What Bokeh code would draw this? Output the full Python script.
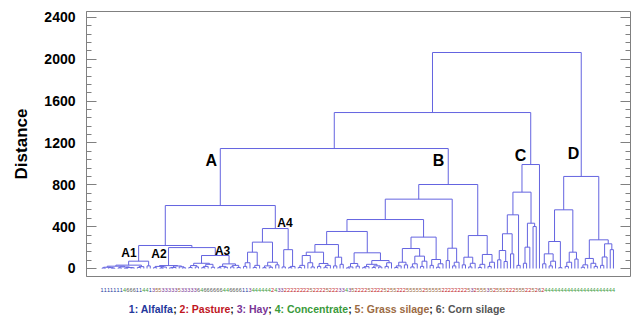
from bokeh.plotting import figure
from bokeh.models import Range1d, FixedTicker, LinearAxis, ColumnDataSource
from bokeh.layouts import column
from bokeh.embed import file_html
from bokeh.resources import INLINE
from bokeh.core.properties import value

o = None  # a single sample (leaf of the dendrogram)

# sub-clusters written as (merge distance, left branch, right branch)
A1 = (70, (32, (22, (12, (5, o, o), (8, o, (4, o, o))),
                    (15, (6, o, o), (9, (4, o, o), (7, o, o)))),
               (18, (10, o, o), o)),
      (25, o, o))
A2 = (28, (20, (8, o, o), (14, (5, o, o), o)),
          (24, (10, (6, o, o), o), (16, o, (7, o, o))))
A3 = (124, (50, (28, (10, o, o), (15, o, o)), (40, (20, (8, o, o), o), (12, o, o))),
           (44, (20, (8, o, o), (12, o, o)), (30, (15, o, o), (10, o, o))))
A4 = (382, (252, (156, (55, (20, o, o), o), (30, (10, o, o), o)),
                 (60, (25, (8, o, o), (12, o, o)), (35, o, o))),
           (180, (15, o, o), (20, (8, o, o), o)))

P1 = (156, (124, (30, (10, o, o), o), (55, o, (15, o, o))),
           (48, (20, o, o), (30, (12, o, o), o)))
P2 = (108, (25, o, o), (40, o, o))
Q1 = (48, (15, (6, o, o), o), (22, o, o))
Q2 = (76, (40, (18, (8, o, o), o), (25, (10, o, o), (14, o, o))), (55, (20, o, o), o))
R1 = (191, (60, (25, (10, o, o), o), (35, o, o)),
           (118, (45, (15, o, o), o), (70, (20, o, o), o)))
R2 = (86, (30, o, o), (45, (12, o, o), o))
BL2 = (194, (76, o, o), (60, (25, o, o), o))
BR = (315, (108, (35, o, o), (50, (15, o, o), o)),
           (134, (40, (10, o, o), o), (60, (20, o, o), o)))
B = (803, (663, (468, (354, (229, P1, P2), (150, Q1, Q2)), (300, R1, R2)), BL2), BR)

C = (994, (730, (513, (332, (172, (83, o, o), (67, o, o)), (140, o, o)), (30, o, o)),
                (433, (204, (50, o, o), o), (401, o, o))),
      o)
D = (880, (561, (258, (140, (45, o, o), (70, (25, o, o), o)), (8, o, o)),
                (156, (60, (20, o, o), o), (90, o, o))),
          (274, (96, (35, (12, o, o), o), (50, o, (20, o, o))),
                (236, (110, (30, o, o), o), (180, o, o))))

A = (602, (220, A1, (200, A2, A3)), A4)
tree = (2065, (1491, (1147, A, B), C), D)

# feed type of each sample, in dendrogram order
leaf_labels = ("1111111" "4666" "11" "44" "1" "3" "55" "33333" "5" "3" "3333" "6" "4"
               "666666" "44" "6666" "113" "44444"
               "4" "2" "4" "33" "22222222" "5" "2222" "5" "222" "33"
               "4" "3" "5" "2222" "5" "2222" "5" "2" "55" "222" "55555" "2" "55"
               "555" "22222222" "5" "3" "2" "555" "3" "5" "2" "555" "222" "555" "22"
               "5" "2" "6" "2"
               "4444444444444444444444")

type_codes = ["1", "2", "3", "4", "5", "6"]
type_names = ["Alfalfa", "Pasture", "Hay", "Concentrate", "Grass silage", "Corn silage"]
type_colors = ["#24389c", "#c0161e", "#7a3596", "#3a9a3a", "#9b6a42", "#555555"]

y_ticks = [0, 400, 800, 1200, 1600, 2000, 2400]
y_minor = list(range(0, 2401, 80))

cluster_names = ["A", "B", "C", "D"]
cluster_x = [34.0, 104.6, 130.1, 146.6]
cluster_y = [1033, 1033, 1080, 1100]
sub_names = ["A1", "A2", "A3", "A4"]
sub_x = [8.4, 17.7, 37.5, 56.9]
sub_y = [148, 134, 172, 435]

FONT = "Liberation Sans"
LINE = "#6464e0"
FRAME = "#808080"

# ---- dendrogram geometry from the tree ----
seg = dict(x0=[], y0=[], x1=[], y1=[])
leaf_x = []


def walk(node):
    if node is None:
        leaf_x.append(float(len(leaf_x)))
        return leaf_x[-1], 0.0
    h, left, right = node
    xl, hl = walk(left)
    xr, hr = walk(right)
    for a, b, c, d in ((xl, hl, xl, h), (xr, hr, xr, h), (xl, h, xr, h)):
        seg["x0"].append(a)
        seg["y0"].append(b)
        seg["x1"].append(c)
        seg["y1"].append(d)
    return (xl + xr) / 2.0, h


walk(tree)
assert len(leaf_x) == len(leaf_labels)

p = figure(width=633, height=277, x_range=Range1d(-4.82, 164.3), y_range=Range1d(-76.5, 2457),
           output_backend="svg", toolbar_location=None, x_axis_location=None,
           min_border_left=86, min_border_right=3, min_border_top=11, min_border_bottom=1)
p.xgrid.visible = False
p.ygrid.visible = False
p.outline_line_color = FRAME
p.outline_line_width = 1
p.background_fill_color = "white"
p.border_fill_color = "white"

ya = p.yaxis[0]
ya.ticker = FixedTicker(ticks=y_ticks, minor_ticks=y_minor)
ya.axis_line_color = FRAME
ya.major_tick_line_color = FRAME
ya.minor_tick_line_color = FRAME
ya.major_tick_in = 10
ya.major_tick_out = 0
ya.minor_tick_in = 5
ya.minor_tick_out = 0
ya.major_label_standoff = 11
ya.major_label_text_font = FONT
ya.major_label_text_font_style = "bold"
ya.major_label_text_font_size = "14px"
ya.major_label_text_color = "black"
ya.axis_label = "Distance"
ya.axis_label_text_font = FONT
ya.axis_label_text_font_style = "bold"
ya.axis_label_text_font_size = "17px"
ya.axis_label_text_color = "black"
ya.axis_label_standoff = 10

# right side: inward tick marks only (no labels) -- short ones and long ones
ra_minor = LinearAxis(ticker=FixedTicker(ticks=[], minor_ticks=y_minor),
                      major_label_standoff=0, axis_line_color=None,
                      minor_tick_line_color=FRAME, minor_tick_in=5, minor_tick_out=0,
                      major_tick_in=0, major_tick_out=0)
ra_major = LinearAxis(ticker=FixedTicker(ticks=[], minor_ticks=y_ticks),
                      major_label_standoff=0, axis_line_color=None,
                      minor_tick_line_color=FRAME, minor_tick_in=10, minor_tick_out=0,
                      major_tick_in=0, major_tick_out=0)
p.add_layout(ra_minor, "right")
p.add_layout(ra_major, "right")

p.segment(x0="x0", y0="y0", x1="x1", y1="y1", source=ColumnDataSource(seg),
          line_color=LINE, line_width=1)

p.text(x=cluster_x, y=cluster_y, text=cluster_names, text_font=value(FONT),
       text_font_style="bold", text_font_size="16px", text_color="black",
       text_align="center", text_baseline="middle")
p.text(x=sub_x, y=sub_y, text=sub_names, text_font=value(FONT),
       text_font_style="bold", text_font_size="12px", text_color="black",
       text_align="center", text_baseline="middle")

# ---- strip below the plot: sample labels and the key ----
p2 = figure(width=633, height=45, x_range=p.x_range, y_range=Range1d(45, 0),
            output_backend="svg", toolbar_location=None, x_axis_location=None,
            y_axis_location=None, min_border_left=86, min_border_right=3,
            min_border_top=0, min_border_bottom=0)
p2.xgrid.visible = False
p2.ygrid.visible = False
p2.outline_line_color = None
p2.extra_x_ranges = {"px": Range1d(86, 630)}

color_of = dict(zip(type_codes, type_colors))
lab = ColumnDataSource(dict(x=leaf_x, y=[12] * len(leaf_x), t=list(leaf_labels),
                            c=[color_of[ch] for ch in leaf_labels]))
p2.text(x="x", y="y", text="t", text_color="c", source=lab, text_font=value(FONT),
        text_font_size="5.5px", text_align="center", text_baseline="alphabetic")

# Arial-bold advance widths (1/1000 em) to lay the coloured key pieces end to end
W = {'1': 556, '2': 556, '3': 556, '4': 556, '5': 556, '6': 556, ':': 333, ';': 333, ' ': 278,
     'A': 722, 'P': 667, 'H': 722, 'C': 722, 'G': 778, 'a': 556, 'c': 556, 'e': 556, 'f': 333,
     'g': 611, 'i': 278, 'l': 278, 'n': 611, 'o': 611, 'r': 389, 's': 556, 't': 333, 'u': 611,
     'y': 556}
fs = 10.5
pieces = []
for k, (code, name, col) in enumerate(zip(type_codes, type_names, type_colors)):
    pieces.append((f"{code}: {name}", col))
    if k < len(type_codes) - 1:
        pieces.append(("; ", "#111111"))
widths = [sum(W.get(ch, 556) for ch in t) / 1000.0 * fs for t, _ in pieces]
x = 316.5 - sum(widths) / 2.0
kx = []
for w in widths:
    kx.append(x)
    x += w
p2.text(x=kx, y=[31] * len(pieces), text=[t for t, _ in pieces], text_color=[c for _, c in pieces],
        x_range_name="px", text_font=value(FONT), text_font_style="bold",
        text_font_size=f"{fs}px", text_align="left", text_baseline="alphabetic")

layout = column(p, p2, spacing=0)
open("out.html", "w").write(file_html(layout, INLINE))
